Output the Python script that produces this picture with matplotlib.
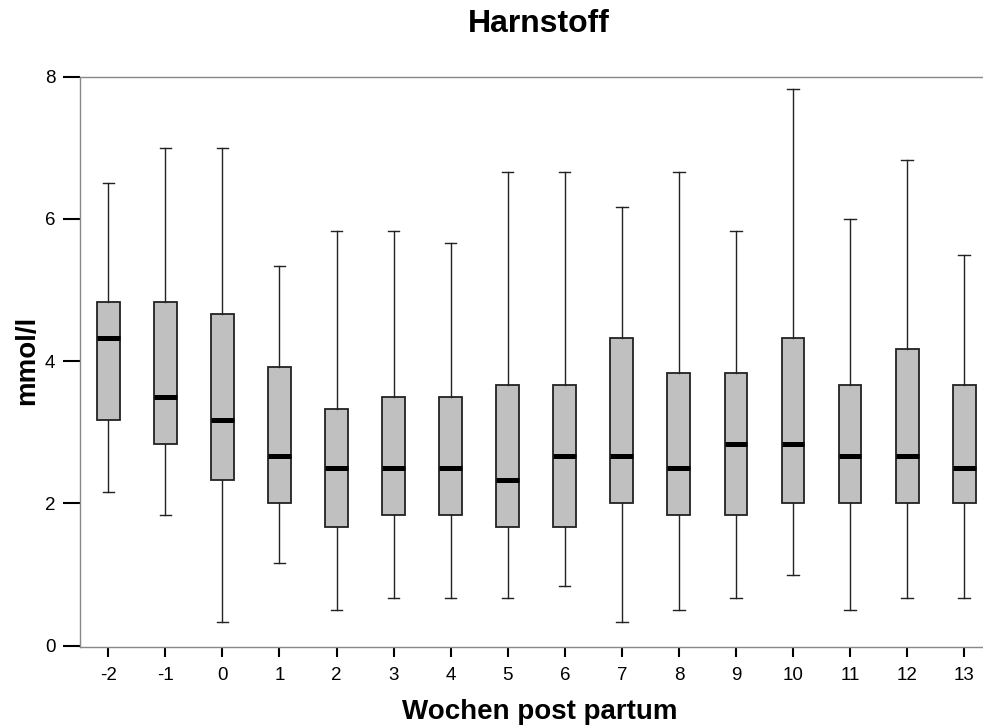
import matplotlib
matplotlib.use("Agg")
import matplotlib.pyplot as plt

plt.rcParams['font.family'] = ['Liberation Sans', 'DejaVu Sans']

weeks = ["-2", "-1", "0", "1", "2", "3", "4", "5", "6", "7", "8", "9", "10", "11", "12", "13"]
whisker_low = [2.167, 1.833, 0.333, 1.167, 0.5, 0.667, 0.667, 0.667, 0.833, 0.333, 0.5, 0.667, 1.0, 0.5, 0.667, 0.667]
q1 = [3.167, 2.833, 2.333, 2.0, 1.667, 1.833, 1.833, 1.667, 1.667, 2.0, 1.833, 1.833, 2.0, 2.0, 2.0, 2.0]
median = [4.333, 3.5, 3.167, 2.667, 2.5, 2.5, 2.5, 2.333, 2.667, 2.667, 2.5, 2.833, 2.833, 2.667, 2.667, 2.5]
q3 = [4.833, 4.833, 4.667, 3.917, 3.333, 3.5, 3.5, 3.667, 3.667, 4.333, 3.833, 3.833, 4.333, 3.667, 4.167, 3.667]
whisker_high = [6.5, 7.0, 7.0, 5.333, 5.833, 5.833, 5.667, 6.667, 6.667, 6.167, 6.667, 5.833, 7.833, 6.0, 6.833, 5.5]
yticks = [0, 2, 4, 6, 8]

title = "Harnstoff"
xlabel = "Wochen post partum"
ylabel = "mmol/l"

W, H = 983, 728
fig = plt.figure(figsize=(W / 100, H / 100), dpi=100)
ax = fig.add_axes([79.7 / W, (H - 647.3) / H, (W - 79.7) / W, (647.3 - 76.7) / H])

positions = list(range(len(weeks)))
stats = []
for i, lab in enumerate(weeks):
    stats.append(dict(label=lab, whislo=whisker_low[i], q1=q1[i], med=median[i],
                      q3=q3[i], whishi=whisker_high[i], fliers=[]))

ax.bxp(stats, positions=positions, widths=0.4, patch_artist=True, showfliers=False,
       boxprops=dict(facecolor='#c0c0c0', edgecolor='#222222', linewidth=1.3),
       medianprops=dict(color='black', linewidth=3.6, solid_capstyle='butt'),
       whiskerprops=dict(color='#222222', linewidth=1.0),
       capprops=dict(color='#222222', linewidth=1.0),
       capwidths=0.2)

ax.set_xlim(-0.5 - 0.001, len(weeks) - 1 + 0.33)
ax.set_ylim(-0.022, 8.0)
ax.set_yticks(yticks)
ax.set_yticklabels([str(t) for t in yticks])
ax.set_xticks(positions)
ax.set_xticklabels(weeks)

for s in ['left', 'bottom', 'top']:
    ax.spines[s].set_color('#888888')
    ax.spines[s].set_linewidth(1.0)
ax.spines['right'].set_visible(False)

ax.tick_params(axis='y', length=12.5, width=1.5, color='black', pad=5, labelsize=13.5)
ax.tick_params(axis='x', length=7.5, width=1.5, color='black', pad=7, labelsize=13.5)

fig.text(539 / W, 1 - 24 / H, title, ha='center', va='center', fontsize=23, fontweight='bold')
fig.text(540 / W, (H - 719) / H, xlabel, ha='center', va='baseline', fontsize=20, fontweight='bold')
fig.text(27 / W, 1 - 360 / H, ylabel, ha='center', va='center', rotation=90, fontsize=20, fontweight='bold')

fig.savefig("out.png", dpi=100)
